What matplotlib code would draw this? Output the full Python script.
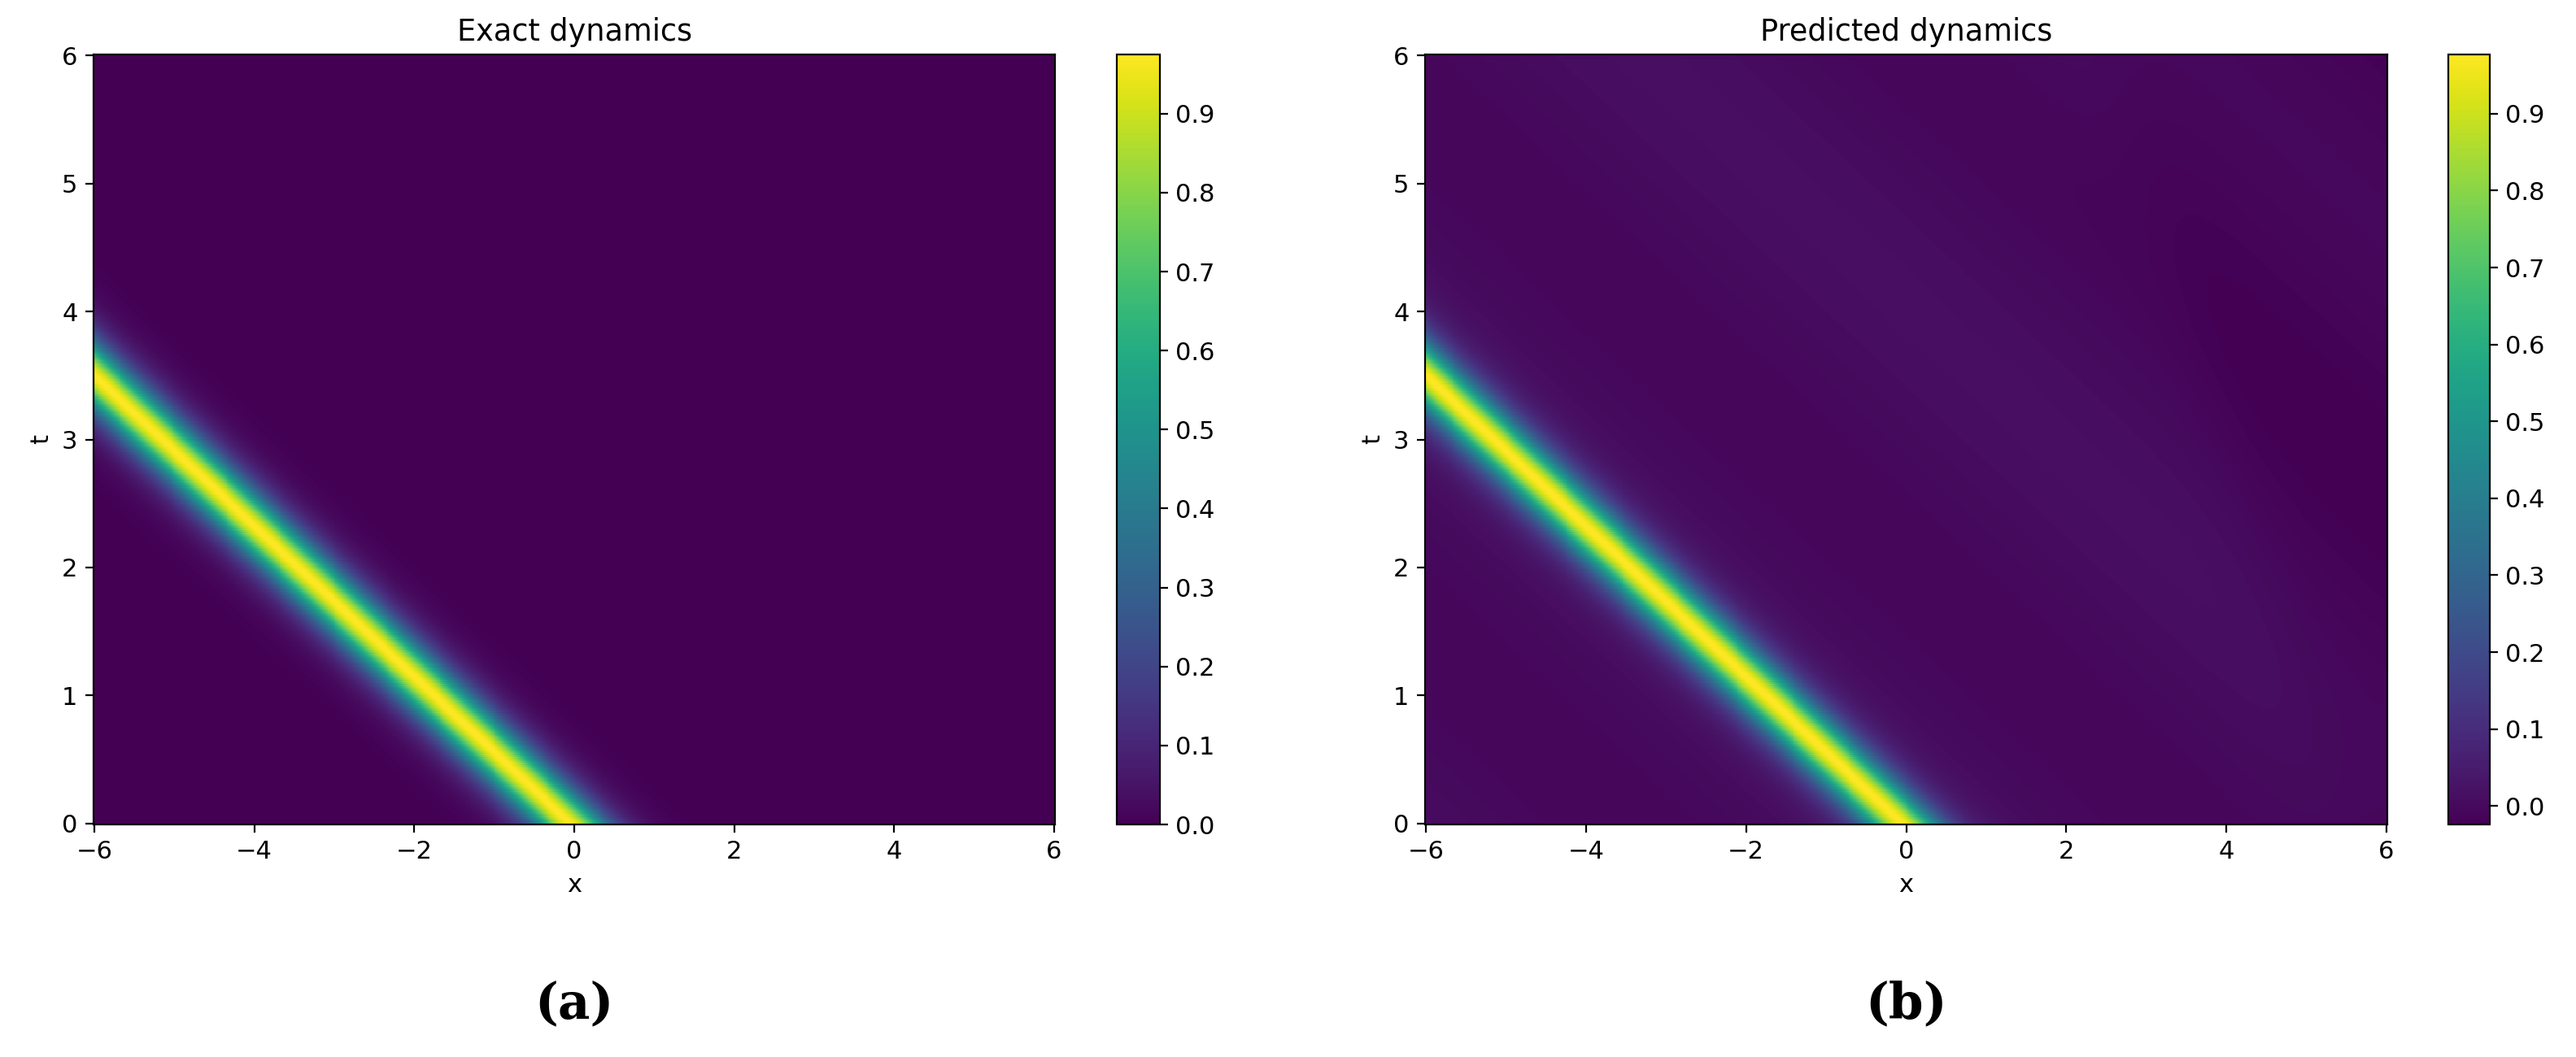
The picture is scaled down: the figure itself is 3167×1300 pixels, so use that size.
import numpy as np
import matplotlib
matplotlib.use("Agg")
import matplotlib.pyplot as plt

plt.rcParams["font.size"] = 11

x_range = [-6, 6]
t_range = [0, 6]
amplitude = 0.975
speed = 1.70
x0 = -0.05
kwidth = 2.35
pred_amplitude = 0.965
ripple = 0.010
ticks_x = [-6, -4, -2, 0, 2, 4, 6]
ticks_t = [0, 1, 2, 3, 4, 5, 6]
titles = ["Exact dynamics", "Predicted dynamics"]
panel_labels = ["(a)", "(b)"]

x = np.linspace(*x_range, 600)
t = np.linspace(*t_range, 400)
X, T = np.meshgrid(x, t)
xi = X - x0 + speed * T
exact = amplitude / np.cosh(kwidth * xi) ** 2
pred = pred_amplitude / np.cosh(kwidth * xi) ** 2 \
    + ripple * np.cos(0.9 * xi) - 0.008 * np.tanh((X + T * 0.5 - 5.5) * 2) - 0.006

fig = plt.figure(figsize=(15.835, 6.5), dpi=200)
W, H = 3167, 1300
axes_px = [(115, 67, 1297, 1014), (1752, 67, 2935, 1014)]
cb_px = [(1373, 67, 1426, 1014), (3010, 67, 3061, 1014)]
for i, data in enumerate([exact, pred]):
    l, tp, r, b = axes_px[i]
    ax = fig.add_axes([l / W, 1 - b / H, (r - l) / W, (b - tp) / H])
    im = ax.pcolormesh(X, T, data, cmap="viridis", shading="auto", rasterized=True)
    ax.set_xticks(ticks_x)
    ax.set_yticks(ticks_t)
    ax.set_xlabel("x")
    ax.set_ylabel("t")
    ax.set_title(titles[i])
    l2, t2, r2, b2 = cb_px[i]
    cax = fig.add_axes([l2 / W, 1 - b2 / H, (r2 - l2) / W, (b2 - t2) / H])
    cb = fig.colorbar(im, cax=cax)
    cb.set_ticks(np.round(np.arange(0, 1.0, 0.1), 1))
    fig.text((l + r) / 2 / W, 1 - 1235 / H, panel_labels[i], ha="center", va="center",
             fontsize=22, fontweight="bold", family="DejaVu Serif")

fig.savefig("out.png", dpi=200)
